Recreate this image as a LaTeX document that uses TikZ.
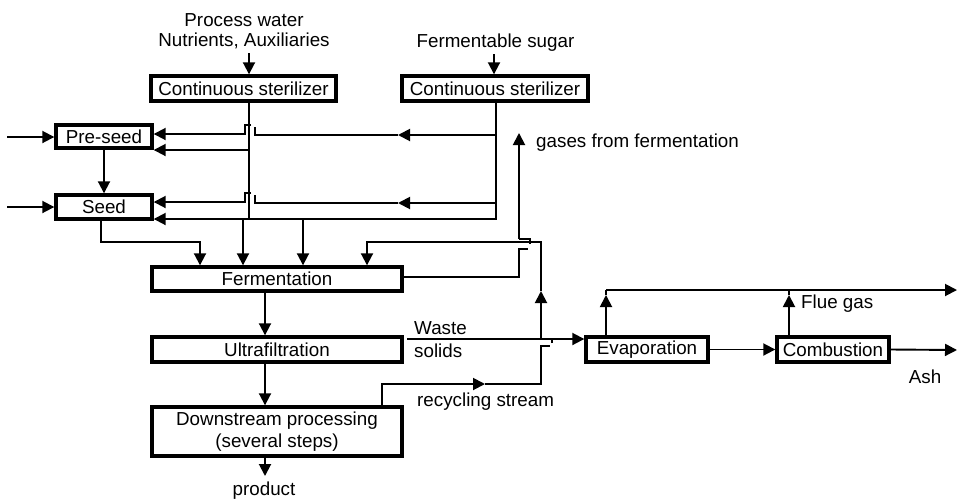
\documentclass[tikz,border=0pt]{standalone}
\usepackage{fontspec}
\setmainfont{Liberation Sans}
\usetikzlibrary{arrows.meta,calc}
\newcommand\fsz{\fontsize{18.8}{21.5}\selectfont}
\tikzset{
  box/.style={draw, line width=3.4pt, inner sep=0pt, font=\fsz, align=center},
  ln/.style={line width=1.9pt},
  arr/.style={line width=1.9pt, -{Triangle[length=12pt,width=12pt]}},
  lbl/.style={inner sep=0pt, font=\fsz, align=center},
}
\begin{document}
\begin{tikzpicture}[x=1pt,y=-1pt]
\useasboundingbox (0,0) rectangle (957,499);
% boxes
\node[box, minimum width=185pt, minimum height=25pt] (s1) at (243.5,88.5) {Continuous sterilizer};
\node[box, minimum width=186pt, minimum height=25pt] (s2) at (495,88.5) {Continuous sterilizer};
\node[box, minimum width=96pt, minimum height=23pt] (pre) at (104,136.5) {Pre-seed};
\node[box, minimum width=96pt, minimum height=24pt] (seed) at (104,207) {Seed};
\node[box, minimum width=250pt, minimum height=24pt] (ferm) at (277,279) {Fermentation};
\node[box, minimum width=250pt, minimum height=25pt] (ultra) at (277,349.5) {Ultrafiltration};
\node[box, minimum width=250pt, minimum height=49pt, font=\fontsize{18.8}{22}\selectfont] (down) at (277,431.5) {Downstream processing\\(several steps)};
\node[box, minimum width=122pt, minimum height=25pt] (evap) at (647,349.5) {Evaporation};
\node[box, minimum width=112pt, minimum height=25pt] (comb) at (833,349.5) {Combustion};
% labels
\node[lbl, anchor=base] (pw1) at (244,26) {Process water};
\node[lbl, anchor=base] (pw) at (244,46) {Nutrients, Auxiliaries};
\node[lbl, anchor=base] (fs) at (495.5,47) {Fermentable sugar};
\node[lbl, anchor=base west] (gas) at (536,147) {gases from fermentation};
\node[lbl, anchor=base west] (waste) at (414,334) {Waste};
\node[lbl, anchor=base west] (solids) at (414,357) {solids};
\node[lbl, anchor=base west] (rec) at (417,406) {recycling stream};
\node[lbl, anchor=base west] (flue) at (801,308) {Flue gas};
\node[lbl, anchor=base] (ash) at (925,383) {Ash};
\node[lbl, anchor=base] (prod) at (264,495) {product};
% coordinates
\coordinate (s1x) at (249,53);
\coordinate (s2x) at (494,54);
\coordinate (j1) at (249,219);
\coordinate (j2) at (496,219);
\coordinate (k1) at (249,150);
\coordinate (a1) at (496,135);
\coordinate (m1) at (398,135);
\coordinate (h1r) at (255,135);
\coordinate (h1l) at (245,134);
\coordinate (a2) at (496,203);
\coordinate (m2) at (398,203);
\coordinate (h2r) at (255,203);
\coordinate (h2l) at (245,202);
\coordinate (inpre) at (7,137);
\coordinate (inseed) at (7,207);
\coordinate (sb) at (101,242);
\coordinate (f0) at (200,242);
\coordinate (f1) at (243,219);
\coordinate (f2) at (303,219);
\coordinate (px) at (265,476);
\coordinate (r0) at (382,384);
\coordinate (rm) at (485,384);
\coordinate (r1) at (541,384);
\coordinate (r2) at (541,339);
\coordinate (ru) at (541,291);
\coordinate (r3) at (541,242);
\coordinate (r4) at (367,242);
\coordinate (g0) at (519,277);
\coordinate (g1) at (519,249);
\coordinate (g2) at (519,239);
\coordinate (gt) at (519,133);
\coordinate (w0) at (407,339);
\coordinate (e0) at (606,290);
\coordinate (e1) at (606,295);
\coordinate (c0) at (789,290);
\coordinate (c1) at (789,295);
\coordinate (fe) at (957,290);
\coordinate (ashend) at (957,350);
% feeds to sterilizers
\draw[arr] (s1x) -- (s1x |- s1.north);
\draw[arr] (s2x) -- (s2x |- s2.north);
% sterilizer 1 line
\draw[ln] (s1.south -| j1) -- (j1);
\draw[arr] (k1) -- (k1 -| pre.east);
% sterilizer 2 line, bottom line to seed
\draw[arr] (s2.south -| j2) -- (j2) -- (j2 -| seed.east);
% upper branches from sterilizer 2 with hops
\draw[arr] (a1) -- (m1);
\draw[ln] (m1) -- (h1r) -- ++(0,-8);
\draw[arr] (251,125) -- (245,125) -- (h1l) -- (h1l -| pre.east);
\draw[arr] (a2) -- (m2);
\draw[ln] (m2) -- (h2r) -- ++(0,-8);
\draw[arr] (251,193) -- (245,193) -- (h2l) -- (h2l -| seed.east);
% inlets
\draw[arr] (inpre) -- (inpre -| pre.west);
\draw[arr] (inseed) -- (inseed -| seed.west);
\draw[arr] (pre.south) -- (seed.north);
% into fermentation
\draw[arr] (seed.south -| sb) -- (sb) -- (f0) -- (f0 |- ferm.north);
\draw[arr] (f1) -- (f1 |- ferm.north);
\draw[arr] (f2) -- (f2 |- ferm.north);
% main train
\draw[arr] (ferm.south -| px) -- (ultra.north -| px);
\draw[arr] (ultra.south -| px) -- (down.north -| px);
\draw[arr] (down.south -| px) -- (px);
% recycling stream
\draw[arr] (down.north -| r0) -- (r0) -- (rm);
\draw[ln] (rm) -- (r1) -- (541,346) -- (550,346);
\draw[ln] (552,343) -- (552,339) -- (r2);
\draw[arr] (r2) -- (ru);
\draw[arr] (ru) -- (r3) -- (r4) -- (r4 |- ferm.north);
% gases
\draw[ln] (ferm.east |- g0) -- (g0) -- (g1) -- (528,249);
\draw[ln] (530,244) -- (530,239) -- (g2);
\draw[arr] (g2) -- (gt);
% waste
\draw[arr] (w0) -- (w0 -| evap.west);
\draw[arr] (evap.east) -- (comb.west);
\draw[arr] (comb.east) -- (ashend);
% flue gas
\draw[arr] (evap.north -| e1) -- (e1);
\draw[ln] (e1) -- (e0);
\draw[arr] (comb.north -| c1) -- (c1);
\draw[ln] (c1) -- (c0);
\draw[arr] (e0) -- (fe);
\end{tikzpicture}
\end{document}
